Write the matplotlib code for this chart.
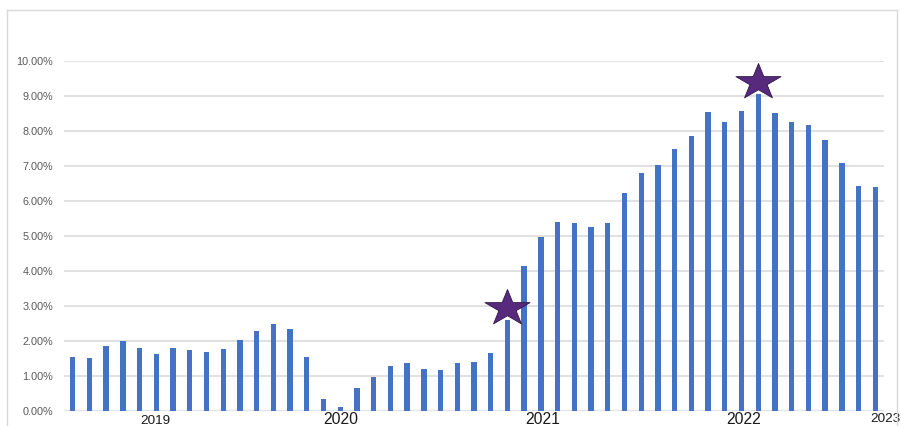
import numpy as np
import matplotlib
matplotlib.use("Agg")
import matplotlib.pyplot as plt
from matplotlib.path import Path
from matplotlib.lines import Line2D
from matplotlib.transforms import blended_transform_factory

# monthly rate, %
values = [1.54, 1.52, 1.86, 2.00, 1.79, 1.64, 1.81, 1.75, 1.70, 1.76,
          2.04, 2.28, 2.49, 2.33, 1.53, 0.33, 0.11, 0.65, 0.98, 1.30,
          1.37, 1.19, 1.17, 1.37, 1.40, 1.67, 2.61, 4.15, 4.98, 5.39,
          5.36, 5.25, 5.38, 6.22, 6.80, 7.03, 7.48, 7.86, 8.54, 8.25,
          8.57, 9.05, 8.52, 8.25, 8.18, 7.74, 7.09, 6.44, 6.41]

# year text boxes under the axis (position in bar units)
year_labels = ["2019", "2020", "2021", "2022", "2023"]
year_pos = [4.92, 16.05, 28.1, 40.15, 48.6]
year_size = [9.7, 11.3, 11.3, 11.3, 9.7]

# star call-outs (bar index, height in %)
star_x = [26, 41]
star_y = [2.93, 9.40]

yticks = list(range(0, 11))

BLUE = "#4472C4"
GRID = "#d9d9d9"
PURPLE = "#582A7D"

fig = plt.figure(figsize=(9.01, 4.26), dpi=100)
W, H = 901, 426
ax = fig.add_axes([64 / W, 1 - 411 / H, (884 - 64) / W, (411 - 61) / H])

x = np.arange(len(values))
ax.bar(x, values, width=0.32, color=BLUE, zorder=3)

ax.set_xlim(-0.52, len(values) - 0.48)
ax.set_ylim(0, 10)
ax.set_yticks(yticks)
ax.set_yticklabels([f"{t:.2f}%" for t in yticks], fontsize=7.8,
                   color="#595959", family="Liberation Sans")
ax.tick_params(axis="y", length=0, pad=7.9)
ax.set_xticks([])
ax.grid(axis="y", color=GRID, linewidth=1.1, zorder=0)
for s in ax.spines.values():
    s.set_visible(False)

# wide five point star, like the office shape
ang_o = np.deg2rad(90 + 72 * np.arange(5))
ang_i = ang_o + np.deg2rad(36)
r_in = 0.382
verts = []
for a, b in zip(ang_o, ang_i):
    verts.append((1.25 * np.cos(a), np.sin(a)))
    verts.append((1.25 * r_in * np.cos(b), r_in * np.sin(b)))
verts.append(verts[0])
codes = [Path.MOVETO] + [Path.LINETO] * (len(verts) - 2) + [Path.CLOSEPOLY]
star = Path(verts, codes)

ax.plot(star_x, star_y, linestyle="none", marker=star, markersize=32.5,
        markerfacecolor=PURPLE, markeredgecolor="#2e1647",
        markeredgewidth=0.6, zorder=5, clip_on=False)

# year labels
trans = blended_transform_factory(ax.transData, fig.transFigure)
for lab, p, fs in zip(year_labels, year_pos, year_size):
    yb = 1 - 422.5 / H if lab == "2023" else 1 - 424 / H
    ax.text(p, yb, lab, transform=trans, ha="center", va="baseline",
            fontsize=fs, family="Liberation Sans", color="#1a1a1a",
            clip_on=False)

# chart frame
fig.add_artist(Line2D([7 / W, 7 / W], [0, 1 - 10 / H], transform=fig.transFigure,
                      color=GRID, linewidth=1.0))
fig.add_artist(Line2D([897 / W, 897 / W], [0, 1 - 10 / H], transform=fig.transFigure,
                      color=GRID, linewidth=1.0))
fig.add_artist(Line2D([7 / W, 897 / W], [1 - 10 / H, 1 - 10 / H], transform=fig.transFigure,
                      color=GRID, linewidth=1.0))

fig.savefig("out.png", dpi=100)
